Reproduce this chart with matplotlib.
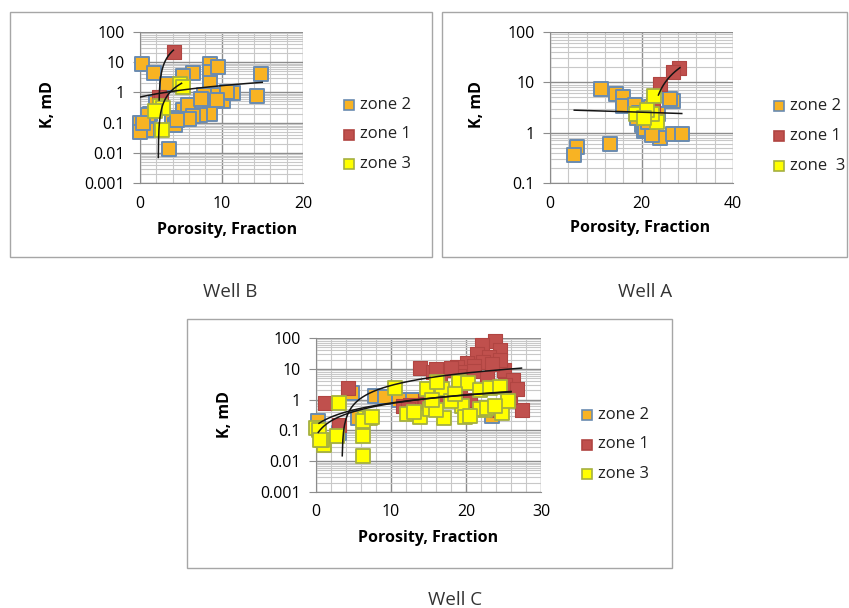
import numpy as np
import matplotlib
matplotlib.use("Agg")
import matplotlib.pyplot as plt
import matplotlib.ticker as ticker
from matplotlib.patches import Rectangle
from matplotlib.lines import Line2D

plt.rcParams['font.family'] = ['Open Sans', 'DejaVu Sans']

W, H = 849, 608

# ---- data ----
# Well B
b_z2_x = [0.3, 1.7, 3.3, 6.5, 8.6, 8.6, 9.6, 14.9, 8.6, 14.3, 10.2, 9.0, 11.4, 10.7, 7.8, 8.6, 8.6, 7.4,
          5.3, 5.9, 3.9, 1.2, 4.3, 0.8, 0.0, 0.0, 3.5, 6.5, 5.3, 7.5, 2.0, 1.0, 6.0, 4.6, 9.5, 0.4]
b_z2_y = [9, 4.5, 1.9, 4.5, 9, 4.9, 7, 4.2, 2, 0.78, 0.52, 0.8, 0.93, 1.05, 0.8, 0.38, 0.19, 0.18,
          0.26, 0.38, 0.14, 0.2, 0.083, 0.056, 0.1, 0.05, 0.013, 0.16, 3.5, 0.6, 0.45, 0.18, 0.13, 0.12, 0.55, 0.1]
b_z1_x = [4.2, 2.3, 2.6]
b_z1_y = [22, 0.7, 0.55]
b_z3_x = [4.9, 5.3, 2.4, 2.8, 2.7, 1.9]
b_z3_y = [1.9, 1.5, 0.35, 0.3, 0.055, 0.25]

# Well A
a_z2_x = [11.1, 14.4, 15.9, 16.0, 18.6, 19.5, 20.0, 20.6, 24.0, 26.9, 28.8, 26.9, 26.2, 6.0, 5.3,
          13.1, 20.8, 22.2, 22.0, 23.5, 21.5, 19.0]
a_z2_y = [7.4, 5.8, 5.2, 3.4, 3.6, 2.5, 1.4, 1.08, 0.78, 0.93, 0.93, 4.3, 4.7, 0.52, 0.36,
          0.59, 1.2, 0.89, 3.3, 2.4, 1.6, 2.0]
a_z1_x = [28.1, 26.9, 24.0, 22.5]
a_z1_y = [19, 16, 9.1, 3.6]
a_z3_x = [22.8, 23.3, 18.9, 22.2, 21.1, 20.5]
a_z3_y = [5.3, 1.6, 2.3, 2.3, 2.8, 2.0]

# Well C
c_z2_x = [4.8, 7.9, 9.2, 12.8, 23.4, 0.3, 3.0, 11.0, 5.6]
c_z2_y = [1.6, 1.3, 1.2, 0.95, 0.3, 0.2, 0.08, 1.0, 0.25]
c_z1_x = [23.9, 22.1, 24.5, 21.5, 23.0, 22.3, 20.1, 18.8, 17.0, 13.9, 15.6, 25.0, 26.3, 27.4, 25.9,
          1.2, 4.3, 3.0, 12.5, 11.6, 24.1, 25.9, 19.2, 14.8, 24.5, 21.0, 16.5, 19.5, 23.5,
          14.5, 12.2, 17.2, 19.0, 21.0, 16.0, 18.0, 25.2, 26.8, 22.8, 20.5]
c_z1_y = [80, 60, 40, 30, 25, 17, 15, 11.8, 9.2, 10.4, 8.1, 9, 4.4, 0.46, 1.2,
          0.76, 2.3, 0.15, 0.67, 0.6, 0.46, 2.0, 1.4, 0.75, 20, 12, 6, 8, 14,
          0.9, 0.5, 1.1, 6.0, 8.5, 9.5, 11.0, 3.0, 2.2, 5.0, 1.0]
c_z3_x = [0.0, 1.0, 0.8, 3.0, 2.8, 6.3, 6.3, 6.5, 7.2, 6.3, 10.5, 12.1, 13.9, 14.8, 16.8, 16.1, 19.0,
          20.3, 15.2, 17.0, 19.4, 19.9, 21.9, 23.2, 24.5, 22.5, 21.8, 24.8, 25.6, 0.4, 0.5, 7.5,
          18.0, 20.5, 16.0, 13.0, 22.8, 15.5, 18.5, 23.8]
c_z3_y = [0.12, 0.034, 0.05, 0.75, 0.066, 0.066, 0.015, 0.25, 0.26, 0.2, 2.3, 0.35, 0.28, 2.2, 2.2, 3.8, 3.8,
          3.5, 0.48, 0.25, 0.62, 0.28, 2.1, 2.3, 2.5, 0.46, 0.5, 0.36, 0.92, 0.1, 0.05, 0.27,
          0.9, 0.3, 0.45, 0.4, 0.55, 1.0, 1.5, 0.6]

# linear trend lines: (slope, intercept, x start, x end)
b_trends = [(0.097, 0.7, 0.0, 15.0), (13.97, -32.27, 2.35, 4.1), (0.70, -1.568, 2.25, 5.1)]
a_trends = [(-0.017, 2.89, 5.3, 28.8), (2.96, -64.55, 23.7, 28.4)]
c_trends = [(0.44, -1.525, 3.5, 27.4), (0.063, 0.145, 0.4, 26.0), (0.068, 0.066, 0.3, 26.0)]

labels = ['zone 2', 'zone 1', 'zone 3']

# ---- styles ----
Z2 = dict(c='#F8B323', edgecolors='#6A8BB0')
Z1 = dict(c='#C0504D', edgecolors='#B04542')
Z3 = dict(c='#FFFF00', edgecolors='#A5B040')


def fx(x):
    return x / W


def fy(y):
    return 1 - y / H


def draw_panel(fig, box, z2, z1, z3, trends, xmax, xmajor, xminor, ymin, legend_pos, lab3, axis_px, wlabel):
    left, top, right, bottom = box
    ax = fig.add_axes([fx(left), fy(bottom), fx(right - left), (bottom - top) / H])
    ax.set_yscale('log')
    ax.set_xlim(0, xmax)
    ax.set_ylim(ymin, 100)
    ax.xaxis.set_major_locator(ticker.MultipleLocator(xmajor))
    ax.xaxis.set_minor_locator(ticker.MultipleLocator(xminor))
    ax.yaxis.set_major_locator(ticker.LogLocator(base=10, numticks=20))
    ax.yaxis.set_minor_locator(ticker.LogLocator(base=10, subs=np.arange(2, 10), numticks=100))
    ax.yaxis.set_minor_formatter(ticker.NullFormatter())
    ax.yaxis.set_major_formatter(ticker.FuncFormatter(lambda v, _: f'{v:g}'))
    ax.grid(which='minor', color='#C8C8C8', lw=0.8)
    ax.grid(which='major', color='#8C8C8C', lw=1.0)
    ax.set_axisbelow(True)
    for s in ['top', 'right']:
        ax.spines[s].set_visible(False)
    for s in ['left', 'bottom']:
        ax.spines[s].set_color('#8C8C8C')
    ax.tick_params(which='minor', length=0)
    ax.tick_params(which='major', axis='y', length=5, color='#8C8C8C', labelsize=11.5, pad=6)
    ax.tick_params(which='major', axis='x', length=0, labelsize=11.5, pad=9)

    ms = 100
    ax.scatter(z2[0], z2[1], s=ms, marker='s', linewidths=1.4, zorder=3, clip_on=False, **Z2)
    ax.scatter(z1[0], z1[1], s=ms, marker='s', linewidths=0.8, zorder=4, clip_on=False, **Z1)
    ax.scatter(z3[0], z3[1], s=ms, marker='s', linewidths=1.3, zorder=5, clip_on=False, **Z3)

    for slope, icpt, x0, x1 in trends:
        xs = np.linspace(x0, x1, 300)
        ys = slope * xs + icpt
        ok = ys > 0
        ax.plot(xs[ok], ys[ok], color='#151515', lw=1.1, zorder=6)

    # axis titles
    ylx, yly, xlx, xly = axis_px
    fig.text(fx(ylx), fy(yly), 'K, mD', rotation=90, ha='center', va='center',
             fontsize=11.5, fontweight='bold')
    fig.text(fx(xlx), fy(xly), 'Porosity, Fraction', ha='center', va='center',
             fontsize=11.5, fontweight='bold')

    # legend
    lx, ly, dy = legend_pos
    for i, (st, lab) in enumerate(zip([Z2, Z1, Z3], [labels[0], labels[1], lab3])):
        y = ly + i * dy
        fig.add_artist(Line2D([fx(lx)], [fy(y)], marker='s', markersize=7.5,
                              markerfacecolor=st['c'], markeredgecolor=st['edgecolors'],
                              markeredgewidth=1.2, linestyle='none'))
        fig.text(fx(lx + 11), fy(y), lab, ha='left', va='center', fontsize=12, color='#222222')

    # well label
    wx, wy, wt = wlabel
    fig.text(fx(wx), fy(wy), wt, ha='center', va='center', fontsize=13.5, color='#333333')
    return ax


fig = plt.figure(figsize=(W / 100, H / 100), dpi=100)
fig.patch.set_facecolor('white')

# panel frames
for l, t, r, b in [(10, 12, 432, 257), (442, 12, 847, 257), (187, 319, 672, 568)]:
    fig.add_artist(Rectangle((fx(l), fy(b)), fx(r - l), (b - t) / H, fill=False,
                             edgecolor='#A6A6A6', lw=1.0, transform=fig.transFigure))

draw_panel(fig, (140, 32, 303, 183), (b_z2_x, b_z2_y), (b_z1_x, b_z1_y), (b_z3_x, b_z3_y),
           b_trends, 20, 10, 2, 0.001, (349, 105, 29.5), 'zone 3', (48, 105, 227, 230),
           (230, 292, 'Well B'))
draw_panel(fig, (550, 32, 733, 183), (a_z2_x, a_z2_y), (a_z1_x, a_z1_y), (a_z3_x, a_z3_y),
           a_trends, 40, 20, 4, 0.1, (779, 106, 30), 'zone  3', (477, 105, 640, 228),
           (645, 292, 'Well A'))
draw_panel(fig, (316, 338, 541, 492), (c_z2_x, c_z2_y), (c_z1_x, c_z1_y), (c_z3_x, c_z3_y),
           c_trends, 30, 10, 2, 0.001, (587, 415, 29.5), 'zone 3', (225, 415, 428, 538),
           (455, 600, 'Well C'))

fig.savefig('out.png', dpi=100)
